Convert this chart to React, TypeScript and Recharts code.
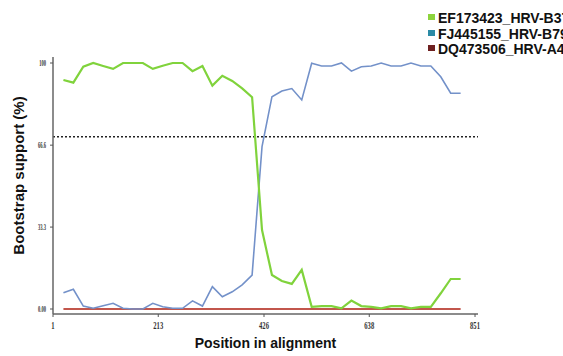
import React from 'react';
import { LineChart, Line, XAxis, YAxis, ReferenceLine, Legend } from 'recharts';

// Window centre positions along the alignment
const positions = [
  22, 42, 62, 82, 102, 122, 142, 162, 182, 202,
  222, 242, 262, 282, 302, 322, 342, 362, 382, 402,
  422, 442, 462, 482, 502, 522, 542, 562, 582, 602,
  622, 642, 662, 682, 702, 722, 742, 762, 782, 802, 822,
];

// Bootstrap support (%) for EF173423_HRV-B37
const supportEF173423 = [
  93.1, 92.0, 98.5, 100, 98.8, 97.6, 100, 100, 100, 97.6,
  98.9, 100, 100, 96.7, 98.8, 90.8, 94.8, 92.7, 89.7, 86.1,
  32.1, 13.8, 11.4, 10.2, 15.9, 0.9, 1.2, 1.2, 0.3, 3.4,
  1.2, 0.9, 0.3, 1.2, 1.2, 0.3, 0.9, 0.9, 6.4, 12.2, 12.2,
];

// Bootstrap support (%) for FJ445155_HRV-B79
const supportFJ445155 = [
  6.6, 8.0, 1.2, 0.3, 1.3, 2.3, 0.3, 0, 0, 2.3,
  0.9, 0.3, 0.3, 3.3, 1.2, 9.1, 5.0, 7.0, 9.8, 13.8,
  66, 86.3, 88.6, 89.6, 85, 99.9, 98.8, 98.8, 100, 96.7,
  98.5, 98.8, 100, 98.8, 98.8, 100, 98.8, 98.8, 94.4, 87.7, 87.7,
];

// Bootstrap support (%) for DQ473506_HRV-A49
const supportDQ473506 = [
  0, 0, 0, 0, 0, 0, 0, 0, 0, 0,
  0, 0, 0, 0, 0, 0, 0, 0, 0, 0,
  0, 0, 0, 0, 0, 0, 0, 0, 0, 0,
  0, 0, 0, 0, 0, 0, 0, 0, 0, 0, 0,
];

const xTicks = [1, 213, 426, 638, 851];
const yTicks = [0, 33.3, 66.6, 100];
const yTickLabels = ['0.00', '33.3', '66.6', '100'];
const threshold = 70;

const seriesNames = ['EF173423_HRV-B37', 'FJ445155_HRV-B79', 'DQ473506_HRV-A49'];
const legendColors = ['#8DD43D', '#2B8BA6', '#6E2020'];
const lineColors = ['#80D33C', '#7391C9', '#C2564C'];

const data = positions.map((p, i) => ({
  pos: p,
  ef: supportEF173423[i],
  fj: supportFJ445155[i],
  dq: supportDQ473506[i],
}));

const XTick = (props: any) => {
  const { x, y, payload } = props;
  return (
    <g transform={`translate(${x},${y})`}>
      <text
        transform="scale(0.6,1)"
        textAnchor="middle"
        dy={10}
        fontSize={11}
        fontFamily="'Liberation Serif', serif"
        fontWeight="bold"
        fill="#333"
      >
        {payload.value}
      </text>
    </g>
  );
};

const YTick = (props: any) => {
  const { x, y, payload } = props;
  const idx = yTicks.indexOf(payload.value);
  const label = idx >= 0 ? yTickLabels[idx] : String(payload.value);
  return (
    <g transform={`translate(${x - 2},${y})`}>
      <text
        transform="scale(0.5,1)"
        textAnchor="end"
        dy={3}
        fontSize={9}
        fontFamily="'Liberation Serif', serif"
        fontWeight="bold"
        fill="#333"
      >
        {label}
      </text>
    </g>
  );
};

const YTitle = (props: any) => {
  const vb = props.viewBox || { x: 10, y: 57, width: 43, height: 257 };
  const cx = vb.x + 8.5;
  const cy = vb.y + vb.height / 2 - 10;
  return (
    <text
      x={cx}
      y={cy}
      transform={`rotate(-90 ${cx} ${cy})`}
      textAnchor="middle"
      dominantBaseline="central"
      fontSize={15}
      fontWeight="bold"
      fontFamily="'Liberation Sans', Arial, sans-serif"
      fill="#111"
    >
      Bootstrap support (%)
    </text>
  );
};

const LegendContent = () => (
  <div style={{ fontFamily: "'Liberation Sans', Arial, sans-serif", fontWeight: 'bold', fontSize: 14, color: '#111', whiteSpace: 'nowrap' }}>
    {seriesNames.map((n, i) => (
      <div key={n} style={{ height: 15.5, lineHeight: '15.5px', display: 'flex', alignItems: 'flex-start' }}>
        <span style={{ display: 'inline-block', width: 7, height: 6, marginTop: 3, marginRight: 3, background: legendColors[i] }} />
        <span>{n}</span>
      </div>
    ))}
  </div>
);

export default function App() {
  return (
    <div style={{ position: 'absolute', left: 0, top: 0, width: 563, height: 356, overflow: 'hidden', background: '#fff' }}>
      <LineChart width={563} height={356} data={data} margin={{ top: 57, right: 85, bottom: 6, left: 10 }}>
        <XAxis
          dataKey="pos"
          type="number"
          domain={[1, 857]}
          ticks={xTicks}
          tick={<XTick />}
          tickSize={3}
          tickLine={{ stroke: '#555' }}
          axisLine={{ stroke: '#666', strokeWidth: 1.5 }}
          height={36}
          interval={0}
          label={{
            value: 'Position in alignment',
            position: 'insideBottom',
            offset: 2,
            fontSize: 14,
            fontWeight: 'bold',
            fontFamily: "'Liberation Sans', Arial, sans-serif",
            fill: '#111',
          }}
        />
        <YAxis
          type="number"
          domain={[-2.03, 102.44]}
          ticks={yTicks}
          tick={<YTick />}
          tickSize={3}
          tickLine={{ stroke: '#555' }}
          axisLine={{ stroke: '#666', strokeWidth: 1.5 }}
          width={43}
          interval={0}
          allowDataOverflow
          label={<YTitle />}
        />
        <ReferenceLine y={threshold} stroke="#222" strokeWidth={1.5} strokeDasharray="2 2" />
        <Line dataKey="dq" name={seriesNames[2]} stroke={lineColors[2]} strokeWidth={2} dot={false} isAnimationActive={false} />
        <Line dataKey="fj" name={seriesNames[1]} stroke={lineColors[1]} strokeWidth={1.6} dot={false} isAnimationActive={false} />
        <Line dataKey="ef" name={seriesNames[0]} stroke={lineColors[0]} strokeWidth={2.2} dot={false} isAnimationActive={false} />
        <Legend
          layout="vertical"
          align="center"
          verticalAlign="middle"
          content={<LegendContent />}
          wrapperStyle={{ position: 'absolute', left: 428, top: 11, width: 200, height: 50 }}
        />
      </LineChart>
    </div>
  );
}
